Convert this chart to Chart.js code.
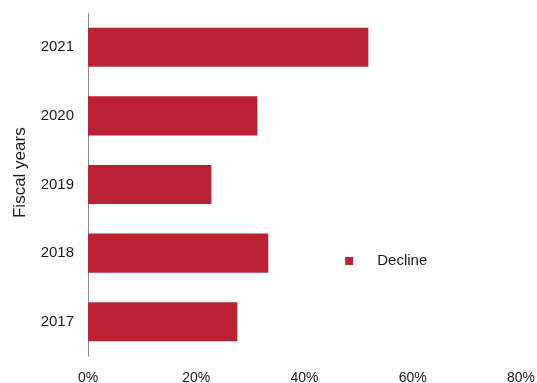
<!DOCTYPE html>
<html>
<head>
<meta charset="utf-8">
<script src="https://cdn.jsdelivr.net/npm/chart.js@4/dist/chart.umd.min.js"></script>
<style>
  html, body { margin:0; padding:0; background:#fff; }
  #wrap { width:537px; height:383px; position:relative; }
</style>
</head>
<body>
<div id="wrap"><canvas id="chart" width="537" height="383"></canvas></div>
<script>
const years = ['2021', '2020', '2019', '2018', '2017'];
const decline = [51.8, 31.3, 22.8, 33.3, 27.6];
const xTicks = [0, 20, 40, 60, 80];
const seriesName = 'Decline';
const barColor = '#BC2033';

// legend sits inside the plot, so draw it ourselves from the dataset
const innerLegend = {
  id: 'innerLegend',
  afterDraw(chart){
    const {ctx, chartArea:a} = chart;
    const ds = chart.data.datasets[0];
    const x = a.left + (a.right - a.left) * 0.594;
    const y = a.top + (a.bottom - a.top) * 0.723;
    ctx.save();
    ctx.fillStyle = ds.backgroundColor;
    ctx.fillRect(x, y - 4, 8, 8);
    ctx.fillStyle = '#1a1a1a';
    ctx.font = '15px "Liberation Sans", Arial, sans-serif';
    ctx.textBaseline = 'middle';
    ctx.fillText(ds.label, x + 32, y);
    ctx.restore();
  }
};

new Chart(document.getElementById('chart'), {
  type: 'bar',
  data: {
    labels: years,
    datasets: [{
      label: seriesName,
      data: decline,
      backgroundColor: barColor,
      categoryPercentage: 1,
      barPercentage: 0.57
    }]
  },
  options: {
    indexAxis: 'y',
    responsive: false,
    animation: false,
    layout: { padding: { left: 0, right: 16, top: 13, bottom: 0 } },
    plugins: { legend: { display:false }, tooltip: { enabled:false } },
    scales: {
      x: {
        min: 0, max: 80,
        afterBuildTicks: s => { s.ticks = xTicks.map(v => ({ value: v })); },
        afterFit: s => { s.height = 27; s.paddingLeft = 0; s.paddingRight = 0; },
        grid: { display:false, drawTicks:false },
        border: { display:false },
        ticks: {
          padding: 14, color:'#1a1a1a',
          font: { family:'"Liberation Sans", Arial, sans-serif', size:14 },
          callback: v => v + '%'
        }
      },
      y: {
        afterFit: s => { s.width = 88; s.paddingTop = 0; s.paddingBottom = 0; },
        grid: { display:false, drawTicks:false },
        border: { display:true, color:'#8c8c8c', width:1 },
        ticks: {
          padding: 14, color:'#1a1a1a',
          font: { family:'"Liberation Sans", Arial, sans-serif', size:15 }
        },
        title: {
          display:true, text:'     Fiscal years', color:'#1a1a1a',
          padding: { top: 10, bottom: 0 },
          font: { family:'"Liberation Sans", Arial, sans-serif', size:17 }
        }
      }
    }
  },
  plugins: [innerLegend]
});
</script>
</body>
</html>
